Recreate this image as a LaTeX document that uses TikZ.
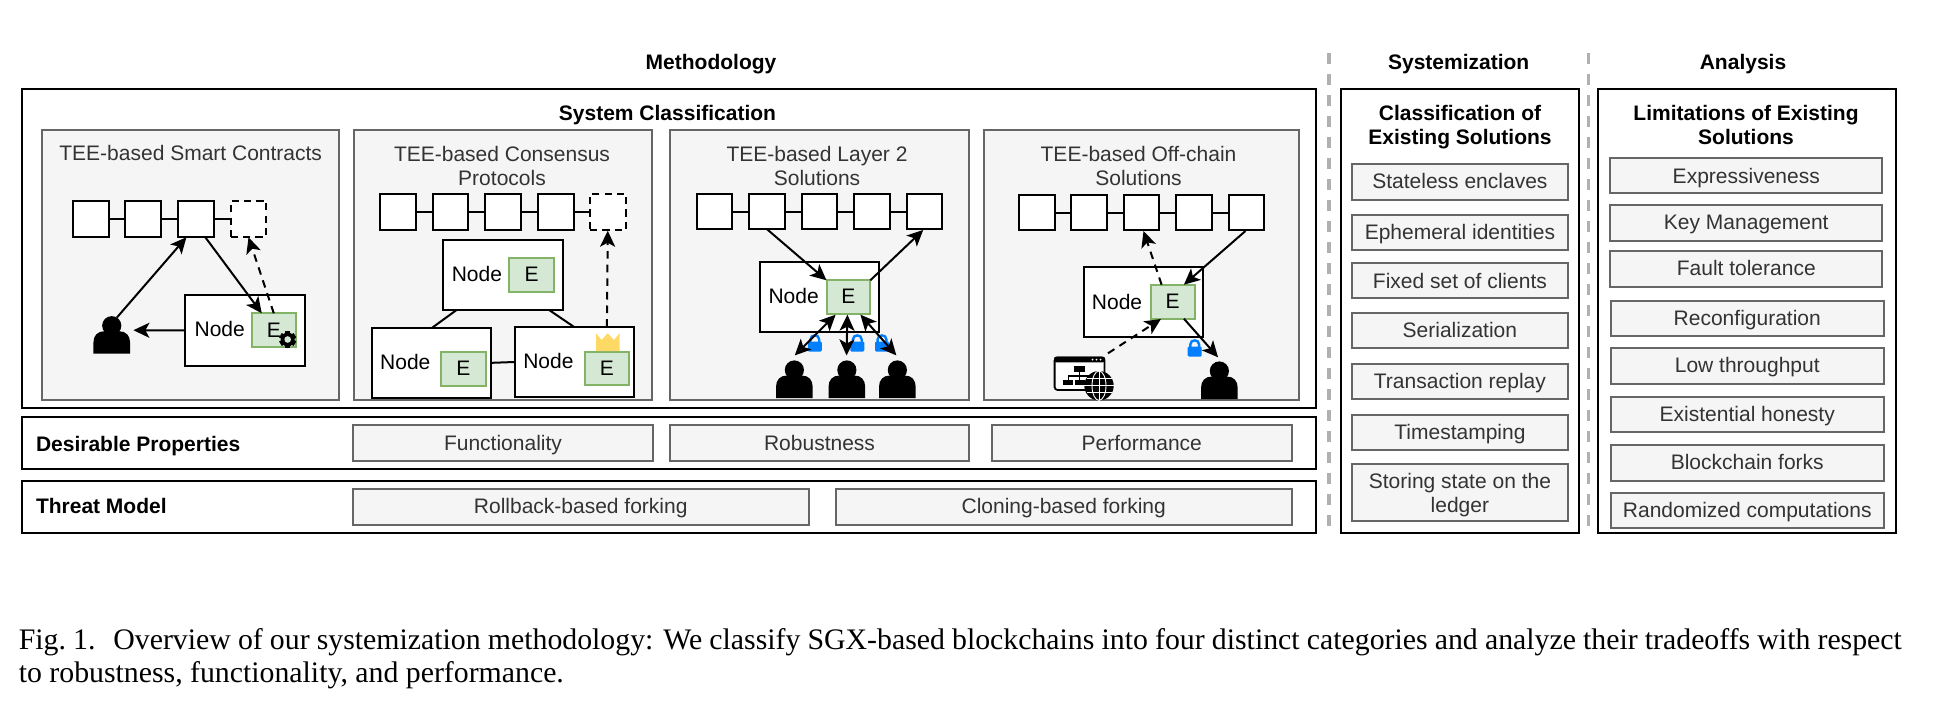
\documentclass[tikz,border=0pt]{standalone}
\usepackage{fontspec}
\setmainfont{Liberation Serif}
\newfontfamily\hv{Liberation Sans}
\usetikzlibrary{arrows.meta,calc}
\newcommand\tstrut{\rule{0pt}{0.85em}\rule[-0.2em]{0pt}{0.2em}}
\definecolor{panelfill}{HTML}{F5F5F5}
\definecolor{panelline}{HTML}{666666}
\definecolor{paneltext}{HTML}{333333}
\definecolor{enclfill}{HTML}{D5E8D4}
\definecolor{enclline}{HTML}{82B366}
\definecolor{lockblue}{HTML}{007FFF}
\definecolor{crownyellow}{HTML}{FFD966}
\definecolor{sepgray}{HTML}{B0B0B0}
\tikzset{
  x=0.5pt,y=-0.5pt,
  every node/.style={inner sep=0pt,outer sep=0pt,font=\hv\fontsize{10.5}{12}\selectfont,align=center},
  outerbox/.style={draw=black,line width=1pt,fill=white},
  panelbox/.style={draw=panelline,line width=1pt,fill=panelfill,text=paneltext},
  wbox/.style={draw=black,line width=1pt,fill=white},
  enclbox/.style={draw=enclline,line width=1pt,fill=enclfill},
  dashbox/.style={draw=black,line width=1pt,fill=white,dash pattern=on 3.6pt off 2.6pt},
  heading/.style={font=\hv\bfseries\fontsize{10.5}{12}\selectfont,text=black},
  ptitle/.style={text=paneltext},
  link/.style={draw=black,line width=1pt},
  arr/.style={draw=black,line width=1pt,-{Stealth[length=8pt,width=7.5pt,inset=2pt]}},
  darr/.style={arr,dash pattern=on 3.8pt off 3pt},
  bidir/.style={draw=black,line width=1pt,{Stealth[length=8pt,width=7.5pt,inset=2pt]}-{Stealth[length=8pt,width=7.5pt,inset=2pt]}},
  sep/.style={draw=sepgray,line width=1.8pt,dash pattern=on 5.3pt off 5.2pt},
}
% box from corners: style, name, x1,y1,x2,y2, text
\newcommand\BX[7]{\node[#1,minimum width={(#5-#3)*0.5pt},minimum height={(#6-#4)*0.5pt}] (#2) at ({(#3+#5)/2},{(#4+#6)/2}) {\tstrut #7};}
% person silhouette: name, left x, top y (36.7 x 37 px)
\newcommand\personicon[3]{%
  \node[minimum width=18.35pt,minimum height=18.5pt] (#1) at ({#2+18.35},{#3+18.5}) {};
  \begin{scope}[shift={(#2,#3)}]
    \fill[black] (18.35,9) circle[radius=9.6];
    \fill[black] (0,37) -- (0,26) .. controls (0,19) and (4,14.5) .. (11,14.5) -- (25.7,14.5) .. controls (32.7,14.5) and (36.7,19) .. (36.7,26) -- (36.7,37) -- cycle;
  \end{scope}}
% lock: name, centre x, top y
\newcommand\lockicon[3]{%
  \node[minimum width=7pt,minimum height=8.8pt] (#1) at (#2,{#3+8.8}) {};
  \begin{scope}[shift={(#2,#3)}]
    \draw[lockblue,line width=1.2pt] (-4.4,9) -- (-4.4,5.5) .. controls (-4.4,0) and (4.4,0) .. (4.4,5.5) -- (4.4,9);
    \fill[lockblue,rounded corners=0.6pt] (-7,7.5) rectangle (7,17.6);
  \end{scope}}
\newcommand\nodelabel[4]{\node (#1) at (#2,#3) {\tstrut #4};}
\begin{document}
\begin{tikzpicture}
\useasboundingbox (0,0) rectangle (1947,711);
\fill[white] (0,0) rectangle (1947,711);

% headings
\node[heading] (hm) at (711,63.2) {\tstrut Methodology};
\node[heading] (hs) at (1458.7,63.2) {\tstrut Systemization};
\node[heading] (ha) at (1743,63.2) {\tstrut Analysis};
% separators
\coordinate (s1t) at (1329,53); \coordinate (s1b) at (1329,527);
\coordinate (s2t) at (1588.4,53); \coordinate (s2b) at (1588.4,527);
\draw[sep] (s1t) -- (s1b);
\draw[sep] (s2t) -- (s2b);

% main frames
\BX{outerbox}{frameA}{21.5}{89.3}{1316}{407.7}{}
\BX{outerbox}{frameB}{21.5}{416.7}{1316}{469.3}{}
\BX{outerbox}{frameC}{21.5}{480.7}{1316}{533.3}{}
\BX{outerbox}{frameD}{1341.3}{89.3}{1578.5}{533.3}{}
\BX{outerbox}{frameE}{1598.3}{89.3}{1896.3}{533.3}{}
\node[heading] (hsc) at (667.5,114.2) {\tstrut System Classification};

% panels
\BX{panelbox}{p1}{41.7}{129.7}{339}{400.3}{}
\BX{panelbox}{p2}{354}{129.7}{652}{400.3}{}
\BX{panelbox}{p3}{670.4}{129.7}{968.8}{400.3}{}
\BX{panelbox}{p4}{983.5}{129.7}{1299}{400.3}{}
\node[ptitle] (t1) at (190.7,154) {\tstrut TEE-based Smart Contracts};
\node[ptitle,anchor=north] (t2) at (502,143.6) {\tstrut TEE-based Consensus\\Protocols};
\node[ptitle,anchor=north] (t3) at (817,143.6) {\tstrut TEE-based Layer 2\\Solutions};
\node[ptitle,anchor=north] (t4) at (1138.5,143.6) {\tstrut TEE-based Off-chain\\Solutions};

% --- panel 1
\BX{wbox}{c1a}{72.8}{201}{108.6}{236.7}{}
\BX{wbox}{c1b}{125.4}{201}{161.2}{236.7}{}
\BX{wbox}{c1c}{178}{201}{213.8}{236.7}{}
\BX{dashbox}{c1d}{230.6}{201}{266.4}{236.7}{}
\draw[link] (c1a) -- (c1b);
\draw[link] (c1b) -- (c1c);
\draw[link] (c1c) -- (c1d);
\BX{wbox}{n1}{185.2}{295.3}{304.7}{365.7}{}
\nodelabel{n1l}{219.7}{330}{Node}
\BX{enclbox}{e1}{251.7}{313.3}{295.9}{347.3}{E}
\personicon{u0}{93.4}{316.7}
\begin{scope}[shift={(287.7,339.5)}]
  \foreach \a in {0,60,...,300}{\fill[black,rotate=\a] (-2.6,-8.4) rectangle (2.6,0);}
  \fill[black] (0,0) circle[radius=7];
  \fill[enclfill] (0,0) circle[radius=3.3];
\end{scope}
\draw[arr] ([shift={(5,1)}]u0.north) -- ([shift={(-9.5,0.6)}]c1c.south);
\draw[arr] ([shift={(9,0)}]c1c.south) -- ([shift={(-12,0)}]e1.north);
\draw[darr] (e1.north) -- ([shift={(0,0.6)}]c1d.south);
\draw[arr] (n1.west) -- ([shift={(3.3,-5)}]u0.east);

% --- panel 2
\BX{wbox}{c2a}{380}{194}{415.8}{230}{}
\BX{wbox}{c2b}{432.7}{194}{468.4}{230}{}
\BX{wbox}{c2c}{485.3}{194}{521}{230}{}
\BX{wbox}{c2d}{537.9}{194}{573.7}{230}{}
\BX{dashbox}{c2e}{590}{194}{626.3}{230}{}
\draw[link] (c2a) -- (c2b);
\draw[link] (c2b) -- (c2c);
\draw[link] (c2c) -- (c2d);
\draw[link] (c2d) -- (c2e);
\BX{wbox}{n2a}{443.2}{240}{562.7}{310}{}
\nodelabel{n2al}{476.9}{275}{Node}
\BX{enclbox}{e2a}{509.3}{258}{553.9}{292}{E}
\BX{wbox}{n2b}{371.6}{327.7}{490.8}{398}{}
\nodelabel{n2bl}{405.3}{362.7}{Node}
\BX{enclbox}{e2b}{441}{351.7}{485.7}{386}{E}
\BX{wbox}{n2c}{514.7}{326.7}{634.3}{397.3}{}
\nodelabel{n2cl}{548.4}{361.7}{Node}
\BX{enclbox}{e2c}{584.6}{351.7}{629.2}{385}{E}
\fill[crownyellow] (596,333.3) -- (596,351) -- (619.5,351) -- (619.5,333.3) -- (614,340) -- (607.7,333.3) -- (601.5,340) -- cycle;
\draw[link] ([shift={(-46.4,0)}]n2a.south) -- ([shift={(1,0)}]n2b.north);
\draw[link] ([shift={(46.2,0)}]n2a.south) -- ([shift={(-0.8,0)}]n2c.north);
\draw[link] (n2b.east) -- (n2c.west);
\draw[darr] ([shift={(32.4,0)}]n2c.north) -- ([shift={(-0.4,0.7)}]c2e.south);

% --- panel 3
\BX{wbox}{c3a}{696.9}{194}{732.4}{229.3}{}
\BX{wbox}{c3b}{749.3}{194}{784.9}{229.3}{}
\BX{wbox}{c3c}{801.8}{194}{837.4}{229.3}{}
\BX{wbox}{c3d}{854.3}{194}{889.8}{229.3}{}
\BX{wbox}{c3e}{906.7}{194}{942.3}{229.3}{}
\draw[link] (c3a) -- (c3b);
\draw[link] (c3b) -- (c3c);
\draw[link] (c3c) -- (c3d);
\draw[link] (c3d) -- (c3e);
\BX{wbox}{n3}{759.7}{262}{879}{332.3}{}
\nodelabel{n3l}{793.6}{296.7}{Node}
\BX{enclbox}{e3}{826.5}{280.3}{870.3}{314}{E}
\personicon{u1}{776}{361}
\personicon{u2}{828.5}{361}
\personicon{u3}{879}{361}
\lockicon{l1}{814.8}{334}
\lockicon{l2}{857.3}{334}
\lockicon{l3}{882}{334}
\draw[arr] (c3b.south) -- (e3.north west);
\draw[arr] (e3.north east) -- ([shift={(-1.3,0.7)}]c3e.south);
\draw[bidir] ([shift={(-12.8,0.7)}]e3.south) -- ([shift={(0.4,-5.6)}]u1.north);
\draw[bidir] ([shift={(-1,0.7)}]e3.south) -- ([shift={(-0.3,-5.6)}]u2.north);
\draw[bidir] ([shift={(12,0.7)}]e3.south) -- ([shift={(-1,-5.6)}]u3.north);

% --- panel 4
\BX{wbox}{c4a}{1019}{195}{1054.6}{230.3}{}
\BX{wbox}{c4b}{1071}{195}{1106.7}{230.3}{}
\BX{wbox}{c4c}{1123.6}{195}{1159}{230.3}{}
\BX{wbox}{c4d}{1176}{195}{1211.6}{230.3}{}
\BX{wbox}{c4e}{1228.5}{195}{1264}{230.3}{}
\draw[link] (c4a) -- (c4b);
\draw[link] (c4b) -- (c4c);
\draw[link] (c4c) -- (c4d);
\draw[link] (c4d) -- (c4e);
\BX{wbox}{n4}{1083.7}{266.7}{1203}{336.7}{}
\nodelabel{n4l}{1117}{302.7}{Node}
\BX{enclbox}{e4}{1150.5}{284.7}{1194.7}{318.7}{E}
\personicon{u4}{1201}{362}
\lockicon{l4}{1194.7}{339}
% web icon
\node[minimum width=29pt,minimum height=21.5pt] (web) at (1084,378.5) {};
\draw[black,line width=0.9pt,fill=white,rounded corners=1.5pt] (1054.6,357.5) rectangle (1104.5,390);
\fill[black,rounded corners=1pt] (1054,356.7) rectangle (1105,362.3);
\foreach \dx in {1092.5,1096.5,1100.5}{\fill[white] (\dx,359.6) circle[radius=1];}
\fill[black] (1074.3,365.7) rectangle (1085,371.7);
\draw[black,line width=0.8pt] (1079.6,371.7) -- (1079.6,380);
\draw[black,line width=0.8pt] (1068.3,380) -- (1068.3,375.7) -- (1090,375.7);
\fill[black] (1063.3,380) rectangle (1073.3,385);
\fill[black] (1075,380) rectangle (1085,385);
\begin{scope}[shift={(1099,385.7)}]
  \fill[black] (0,0) circle[radius=14.7];
  \draw[white,line width=0.45pt] (0,-14.7) -- (0,14.7) (-14.7,0) -- (14.7,0);
  \draw[white,line width=0.45pt] (0,0) circle[x radius=7,y radius=14.7];
  \draw[white,line width=0.45pt] (-12.5,-7) -- (12.5,-7) (-12.5,7) -- (12.5,7);
\end{scope}
\draw[arr] ([shift={(-0.8,0.7)}]c4e.south) -- ([shift={(11.3,0)}]e4.north);
\draw[darr] ([shift={(-11,0)}]e4.north) -- ([shift={(2.2,0.7)}]c4c.south);
\draw[darr] ([shift={(24,-3.7)}]web.north) -- ([shift={(-11.7,0.3)}]e4.south);
\draw[arr] ([shift={(11.3,0)}]e4.south) -- ([shift={(-1.3,-4.7)}]u4.north);

% --- rows
\node[heading,anchor=west] (ldp) at (36,444.5) {\tstrut Desirable Properties};
\BX{panelbox}{dp1}{353}{425}{653}{461}{\raisebox{-0.4pt}{Functionality}}
\BX{panelbox}{dp2}{670}{425}{969}{461}{\raisebox{-0.4pt}{Robustness}}
\BX{panelbox}{dp3}{992}{425}{1291.5}{461}{\raisebox{-0.4pt}{Performance}}
\node[heading,anchor=west] (ltm) at (36,507) {\tstrut Threat Model};
\BX{panelbox}{tm1}{353}{489}{808.5}{525}{Rollback-based forking}
\BX{panelbox}{tm2}{836}{489}{1291.5}{525}{Cloning-based forking}

% --- systemization
\node[heading,anchor=north] (hcl) at (1460,103.1) {\tstrut Classification of\\Existing Solutions};
\BX{panelbox}{s1}{1352}{164.3}{1567.8}{199.7}{Stateless enclaves}
\BX{panelbox}{s2}{1352}{214.7}{1567.8}{250}{Ephemeral identities}
\BX{panelbox}{s3}{1352}{263.3}{1567.8}{298.3}{\raisebox{-0.4pt}{Fixed set of clients}}
\BX{panelbox}{s4}{1352}{312.7}{1567.8}{348}{Serialization}
\BX{panelbox}{s5}{1352}{364}{1567.8}{399.3}{Transaction replay}
\BX{panelbox}{s6}{1352}{414.7}{1567.8}{450}{Timestamping}
\BX{panelbox}{s7}{1352}{463.7}{1567.8}{521}{\raisebox{-1.2pt}{Storing state on the}\\\raisebox{-1.2pt}{ledger}}

% --- analysis
\node[heading,anchor=north] (hli) at (1746,103.1) {\tstrut Limitations of Existing\\Solutions};
\BX{panelbox}{a1}{1610.3}{157.7}{1882.2}{193.3}{\raisebox{-1pt}{Expressiveness}}
\BX{panelbox}{a2}{1610.3}{205.3}{1882.2}{240.7}{Key Management}
\BX{panelbox}{a3}{1610.3}{251.3}{1882.2}{286.7}{Fault tolerance}
\BX{panelbox}{a4}{1611}{301}{1883.5}{336}{\raisebox{-0.5pt}{Reconfiguration}}
\BX{panelbox}{a5}{1611}{348.3}{1883.5}{383.7}{Low throughput}
\BX{panelbox}{a6}{1611}{397}{1883.5}{432.3}{Existential honesty}
\BX{panelbox}{a7}{1611}{445.3}{1883.5}{480.7}{Blockchain forks}
\BX{panelbox}{a8}{1611}{492.7}{1883.5}{528}{\raisebox{-0.5pt}{Randomized computations}}

% caption
\node[anchor=north west,text width=941.5pt,align=justify,font=\rmfamily\fontsize{14.9}{16.5}\selectfont] (cap) at (18.8,628.2) {Fig.~1.\hspace{0.6em}Overview of our systemization methodology: We classify SGX-based blockchains into four distinct categories and analyze their tradeoffs with respect\linebreak to robustness, functionality, and performance.};
\end{tikzpicture}
\end{document}
